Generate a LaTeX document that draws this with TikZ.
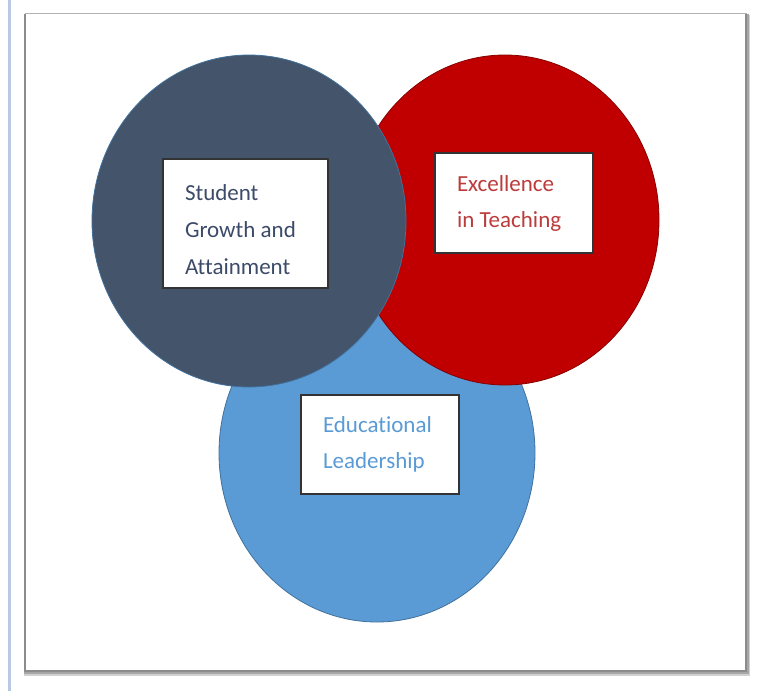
\documentclass[tikz,border=0pt]{standalone}
\usepackage{fontspec}
\setmainfont{Carlito}[Ligatures=NoCommon]
\usetikzlibrary{shapes.geometric}
\definecolor{slatefill}{HTML}{44546A}
\definecolor{redfill}{HTML}{C00000}
\definecolor{bluefill}{HTML}{5B9BD5}
\definecolor{ringline}{HTML}{41719C}
\definecolor{slatetext}{HTML}{3D4B6A}
\definecolor{redtext}{HTML}{BC3B3B}
\definecolor{bluetext}{HTML}{5B9BD5}
\definecolor{sidebar}{HTML}{B9C9E4}
\tikzset{
  ring/.style={ellipse, inner sep=0pt, draw=ringline, line width=0.8pt},
  labelbox/.style={rectangle, draw=black!80, line width=1.2pt, fill=white,
    inner xsep=22pt, inner ysep=0pt, align=flush left,
    font=\fontsize{23}{36}\selectfont},
}
\begin{document}
\begin{tikzpicture}[x=1pt,y=-1pt]
\useasboundingbox (0,0) rectangle (761,691);
\fill[white] (0,0) rectangle (761,691);
% left side bar
\fill[sidebar] (8,0) rectangle (11,691);
% frame with shadow
\fill[black!18] (24,15) rectangle (750,676);
\fill[black!35] (24,14) rectangle (749,674);
\filldraw[fill=white, draw=black!30, line width=1pt] (25,13) rectangle (746,671);
\draw[black!45, line width=1.5pt] (25,14) -- (25,671) -- (746,671) -- (746,14);
% circles
\node[ring, fill=bluefill, minimum width=316pt, minimum height=338pt] (lead) at (377,453) {};
\node[ring, fill=redfill, draw=redfill!70!black, minimum width=308pt, minimum height=330pt] (teach) at (505,220) {};
\node[ring, fill=slatefill, minimum width=314pt, minimum height=332pt] (grow) at (249,221) {};
% label boxes
\node[labelbox, text width=121pt, minimum height=129pt, text=slatetext,
  font=\fontsize{23}{37}\selectfont] (growbox) at (245.5,223.5)
  {\rule{0pt}{28pt}Student\\ Growth and\\ Attainment};
\node[labelbox, text width=114pt, minimum height=100pt, text=redtext] (teachbox) at (514,203)
  {Excellence\\ in Teaching};
\node[labelbox, text width=114pt, minimum height=99pt, text=bluetext] (leadbox) at (380,444.5)
  {Educational\\ Leadership};
\end{tikzpicture}
\end{document}
